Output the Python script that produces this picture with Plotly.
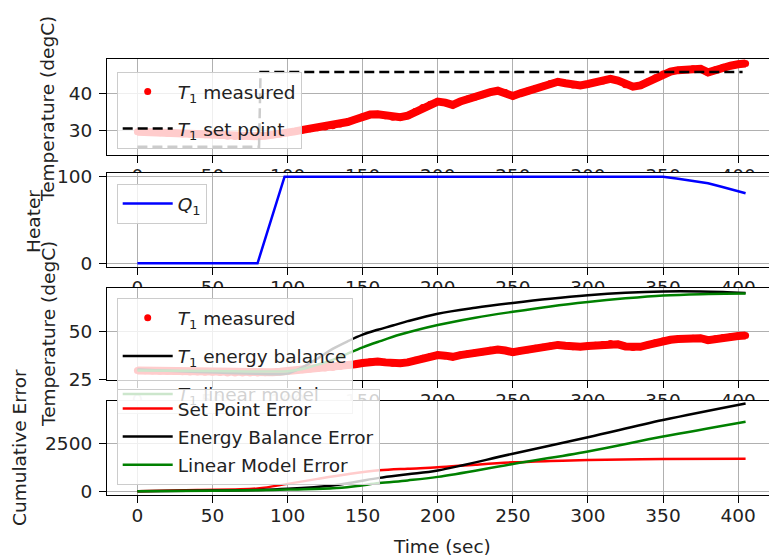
import plotly.graph_objects as go

FONT = "DejaVu Sans"
FS = 18.5
TXT = "#222222"

# ---------------- data ----------------
time_meas = list(range(0, 410, 5))
T1_meas = [29.7, 29.6, 29.5, 29.4, 29.3, 29.2, 29.1, 29.0, 29.0, 28.9,
           28.9, 28.7, 28.5, 28.4, 28.4, 28.4, 28.5, 28.6, 28.8, 29.1,
           29.4, 29.8, 30.2, 30.5, 30.8, 31.0, 31.3, 31.8, 32.3, 33.0,
           33.7, 34.3, 34.4, 34.0, 33.6, 33.6, 34.0, 35.1, 36.2, 37.1,
           37.8, 37.5, 36.9, 37.8, 38.5, 39.0, 39.6, 40.3, 40.7, 40.2,
           39.3, 40.0, 40.6, 41.3, 41.9, 42.6, 43.1, 42.7, 42.2, 42.1,
           42.5, 42.9, 43.3, 43.9, 43.4, 42.3, 41.8, 42.1, 43.1, 44.2,
           45.2, 45.8, 46.2, 46.4, 46.6, 46.6, 45.6, 46.3, 47.0, 47.4,
           47.8, 48.0]

sp_time = [0, 81, 82, 403]
sp_val = [25.7, 25.7, 45.7, 45.7]

q_time = [0, 80, 98, 350, 359, 368, 380, 389, 397, 405]
q_val = [0, 0, 100, 100, 98, 96, 92.5, 88.5, 85, 81]

eb_time = [0, 20, 40, 60, 80, 90, 100, 110, 120, 130, 140, 150, 160, 170,
           180, 200, 225, 250, 275, 300, 325, 350, 375, 390, 405]
eb_val = [30.3, 29.6, 29.0, 28.5, 28.0, 27.8, 28.2, 31.5, 36.0, 41.0, 45.0,
          48.5, 51.0, 53.2, 55.5, 59.4, 62.5, 65.0, 67.2, 69.0, 70.3, 71.0,
          71.0, 70.7, 70.2]

lm_time = [0, 50, 80, 100, 110, 120, 130, 140, 150, 160, 175, 200, 225, 250,
           275, 300, 325, 350, 375, 405]
lm_val = [29.8, 29.5, 29.2, 29.4, 30.5, 32.8, 35.3, 38.6, 41.8, 44.6, 48.5,
          53.5, 57.3, 60.4, 63.2, 65.5, 67.4, 68.9, 69.6, 69.9]

sp_err_time = [0, 40, 80, 100, 120, 140, 161, 180, 200, 225, 250, 275, 300, 350, 405]
sp_err = [0, 60, 140, 380, 640, 880, 1085, 1170, 1240, 1380, 1500, 1570, 1620, 1680, 1690]

eb_err_time = [0, 50, 80, 100, 130, 145, 161, 180, 200, 250, 300, 350, 405]
eb_err = [0, 30, 60, 120, 300, 480, 692, 880, 1080, 1947, 2810, 3703, 4566]

lm_err_time = [0, 50, 80, 100, 130, 145, 161, 180, 200, 250, 300, 350, 405]
lm_err = [0, 25, 50, 80, 150, 260, 420, 560, 744, 1415, 2066, 2841, 3616]

x_ticks = [0, 50, 100, 150, 200, 250, 300, 350, 400]
y1_ticks = [30, 40]
y2_ticks = [0, 100]
y3_ticks = [25, 50]
y4_ticks = [0, 2500]

# ---------------- layout geometry (screen pixels, page has 8px body margin) ----------------
OFF = 8
W, H = 777 - OFF, 559 - OFF
def fx(px):
    return (px - OFF) / W
def fy(py):
    return 1 - (py - OFF) / H

XRANGE = [-20.25, 425.25]
XDOM = [fx(107), min(1.0, fx(776))]
# axis suffix of each panel (suffix "2" is a hidden helper subplot)
P1, P2, P3, P4 = "3", "4", "5", "6"
panels = {
    P1: [fy(154.5), fy(59)],
    P2: [fy(267), fy(173)],
    P3: [fy(380), fy(288)],
    P4: [fy(495), fy(400.5)],
}
yranges = {P1: [23.6, 49.2], P2: [-4.3, 104.3], P3: [24.8, 72.8], P4: [-200, 4720]}
ytick = {P1: y1_ticks, P2: y2_ticks, P3: y3_ticks, P4: y4_ticks}

fig = go.Figure()

# hidden helper subplot drawn first: every real panel overlaps it, so each panel
# paints its own white face over the panel above it (stacked-axes look)
fig.add_trace(go.Scatter(x=[None], y=[None], xaxis="x2", yaxis="y2",
                         showlegend=False, hoverinfo="skip"))

RED, BLK, BLU, GRN = "#ff0000", "#000000", "#0000ff", "#008000"
LW = 2.5

def measured(ax, legend):
    fig.add_trace(go.Scatter(x=time_meas, y=T1_meas, mode="lines",
                             line=dict(color=RED, width=8),
                             xaxis="x" + ax, yaxis="y" + ax, showlegend=False,
                             legend=legend, legendgroup=legend + "m",
                             hoverinfo="skip"))
    fig.add_trace(go.Scatter(x=time_meas, y=T1_meas, mode="markers",
                             marker=dict(color=RED, size=7),
                             name="<i>T</i><sub>1</sub> measured",
                             xaxis="x" + ax, yaxis="y" + ax,
                             legend=legend, legendgroup=legend + "m"))

# panel 1
measured(P1, "legend")
fig.add_trace(go.Scatter(x=sp_time, y=sp_val, mode="lines",
                         line=dict(color=BLK, width=LW, dash="10px,5px"),
                         name="<i>T</i><sub>1</sub> set point",
                         xaxis="x" + P1, yaxis="y" + P1, legend="legend", legendgroup="sp"))
# panel 2
fig.add_trace(go.Scatter(x=q_time, y=q_val, mode="lines",
                         line=dict(color=BLU, width=LW),
                         name="<i>Q</i><sub>1</sub>",
                         xaxis="x" + P2, yaxis="y" + P2, legend="legend2", legendgroup="q"))
# panel 3
measured(P3, "legend3")
fig.add_trace(go.Scatter(x=eb_time, y=eb_val, mode="lines", line_shape="spline",
                         line=dict(color=BLK, width=LW),
                         name="<i>T</i><sub>1</sub> energy balance",
                         xaxis="x" + P3, yaxis="y" + P3, legend="legend3", legendgroup="eb"))
fig.add_trace(go.Scatter(x=lm_time, y=lm_val, mode="lines", line_shape="spline",
                         line=dict(color=GRN, width=LW),
                         name="<i>T</i><sub>1</sub> linear model",
                         xaxis="x" + P3, yaxis="y" + P3, legend="legend3", legendgroup="lm"))
# panel 4
fig.add_trace(go.Scatter(x=sp_err_time, y=sp_err, mode="lines", line_shape="spline",
                         line=dict(color=RED, width=LW), name="Set Point Error",
                         xaxis="x" + P4, yaxis="y" + P4, legend="legend4", legendgroup="e1"))
fig.add_trace(go.Scatter(x=eb_err_time, y=eb_err, mode="lines", line_shape="spline",
                         line=dict(color=BLK, width=LW), name="Energy Balance Error",
                         xaxis="x" + P4, yaxis="y" + P4, legend="legend4", legendgroup="e2"))
fig.add_trace(go.Scatter(x=lm_err_time, y=lm_err, mode="lines", line_shape="spline",
                         line=dict(color=GRN, width=LW), name="Linear Model Error",
                         xaxis="x" + P4, yaxis="y" + P4, legend="legend4", legendgroup="e3"))

axis_common = dict(showline=True, linecolor="black", linewidth=1.2, mirror=True,
                   ticks="outside", ticklen=7, tickwidth=1.2, tickcolor="black",
                   showgrid=True, gridcolor="#b0b0b0", gridwidth=1, zeroline=False,
                   tickfont=dict(family=FONT, size=FS, color=TXT))

layout = dict(
    width=W, height=H,
    margin=dict(l=0, r=0, t=0, b=0, autoexpand=False),
    paper_bgcolor="white", plot_bgcolor="white",
    font=dict(family=FONT, size=FS, color=TXT),
    xaxis2=dict(domain=[0.5, 0.5005], anchor="y2", visible=False),
    yaxis2=dict(domain=[0.0, 1.0], anchor="x2", visible=False),
)
for i in (P1, P2, P3, P4):
    layout[f"xaxis{i}"] = dict(domain=XDOM, anchor=f"y{i}", range=XRANGE,
                               tickvals=x_ticks, ticklabelstandoff=-3, **axis_common)
    layout[f"yaxis{i}"] = dict(domain=panels[i], anchor=f"x{i}", range=yranges[i],
                               tickvals=ytick[i], ticklabelstandoff=3, **axis_common)

leg_common = dict(bgcolor="rgba(255,255,255,0.8)", bordercolor="#cccccc", borderwidth=1,
                  xanchor="left", yanchor="top", traceorder="grouped", itemwidth=50,
                  font=dict(family=FONT, size=FS, color=TXT))
layout["legend"] = dict(x=fx(116.7), y=fy(72), tracegroupgap=10, **leg_common)
layout["legend2"] = dict(x=fx(116.7), y=fy(184), tracegroupgap=12, **leg_common)
layout["legend3"] = dict(x=fx(116.7), y=fy(298.3), tracegroupgap=11, **leg_common)
layout["legend4"] = dict(x=fx(116.7), y=fy(389), tracegroupgap=1, **leg_common)

ann = []
def ylab(text, px, py):
    ann.append(dict(text=text, x=fx(px), y=fy(py), xref="paper", yref="paper",
                    textangle=-90, showarrow=False, xanchor="center", yanchor="middle",
                    font=dict(family=FONT, size=FS, color=TXT)))
ylab("Temperature (degC)", 48, 109)
ylab("Heater", 33, 222)
ylab("Temperature (degC)", 48, 334)
ylab("Cumulative Error", 20, 448)
ann.append(dict(text="Time (sec)", x=fx(441.5), y=fy(546.5), xref="paper", yref="paper",
                showarrow=False, xanchor="center", yanchor="middle",
                font=dict(family=FONT, size=FS, color=TXT)))
layout["annotations"] = ann

fig.update_layout(**layout)
fig.write_html("out.html")
